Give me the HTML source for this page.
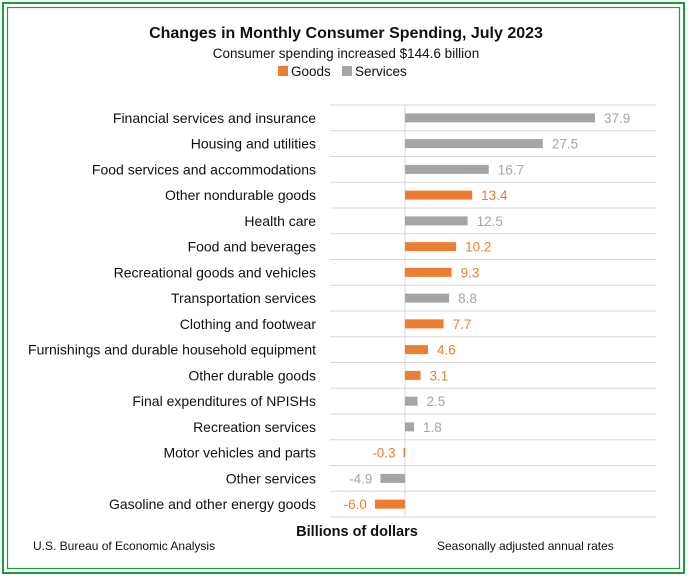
<!DOCTYPE html>
<html><head><meta charset="utf-8"><style>
body{margin:0;background:#fff;font-family:"Liberation Sans",sans-serif}
#wrap{position:relative;width:688px;height:577px;overflow:hidden}
</style></head><body>
<div id="wrap">
<svg id="chart" width="688" height="577">
<rect x="3" y="3" width="681" height="570" fill="none" stroke="#1a9e3a" stroke-width="2"/>
<rect x="7.5" y="7.5" width="672" height="561" fill="none" stroke="#1a9e3a" stroke-width="1.2"/>
<text x="346" y="38" text-anchor="middle" font-size="16" font-weight="bold" fill="#111">Changes in Monthly Consumer Spending, July 2023</text>
<text x="346" y="58" text-anchor="middle" font-size="13.5" fill="#111">Consumer spending increased $144.6 billion</text>
<g>
<rect x="278" y="66" width="10" height="10" fill="#ed7d31"/>
<text x="291" y="76" font-size="13.5" fill="#111">Goods</text>
<rect x="342" y="66" width="10" height="10" fill="#a5a5a5"/>
<text x="355" y="76" font-size="13.5" fill="#111">Services</text>
</g>
<g id="plot"></g>
<text x="357" y="536" text-anchor="middle" font-size="14.5" font-weight="bold" fill="#111">Billions of dollars</text>
<text x="33" y="550" font-size="12" fill="#111">U.S. Bureau of Economic Analysis</text>
<text x="437" y="550" font-size="12" fill="#111">Seasonally adjusted annual rates</text>
</svg>
</div>
<script>
const categories=["Financial services and insurance","Housing and utilities","Food services and accommodations","Other nondurable goods","Health care","Food and beverages","Recreational goods and vehicles","Transportation services","Clothing and footwear","Furnishings and durable household equipment","Other durable goods","Final expenditures of NPISHs","Recreation services","Motor vehicles and parts","Other services","Gasoline and other energy goods"];
const values=[37.9,27.5,16.7,13.4,12.5,10.2,9.3,8.8,7.7,4.6,3.1,2.5,1.8,-0.3,-4.9,-6.0];
const types=["S","S","S","G","S","G","G","S","G","G","G","S","S","G","S","G"];
const NS="http://www.w3.org/2000/svg";
const plotG=document.getElementById('plot');
const x0=405,scale=190/37.9,plotTop=105,pitch=(517-105)/16;
const xs=v=>x0+v*scale;
function mk(t,a){const e=document.createElementNS(NS,t);for(const k in a)e.setAttribute(k,a[k]);plotG.appendChild(e);return e;}
for(let i=0;i<=16;i++){
 const l=mk('line',{x1:330,x2:656,y1:plotTop+i*pitch,y2:plotTop+i*pitch,stroke:'#d9d9d9','stroke-width':1});
 
 
}
const ax=mk('line',{x1:x0,x2:x0,y1:plotTop,y2:517,stroke:'#d9d9d9','stroke-width':1});


categories.forEach((c,i)=>{
 const cy=plotTop+(i+0.5)*pitch, v=values[i], col=types[i]=='G'?'#ed7d31':'#a5a5a5';
 const lt=types[i]=='G'?'#ed7d31':'#a6a6a6';
 const lab=mk('text',{x:316,y:cy+5,'text-anchor':'end','font-size':14,fill:'#111'});
 lab.textContent=c;
 
 
 const x1=Math.min(xs(0),xs(v)),w=Math.max(Math.abs(xs(v)-xs(0)),1.5);
 const b=mk('rect',{x:x1,y:cy-4.5,width:w,height:9,fill:col});
 
 
 const vt=mk('text',{x:v>=0?xs(v)+9:xs(v)-8,y:cy+5,'text-anchor':v>=0?'start':'end','font-size':13.5,fill:lt});
 vt.textContent=v.toFixed(1);
 
 
});
</script>
</body></html>
